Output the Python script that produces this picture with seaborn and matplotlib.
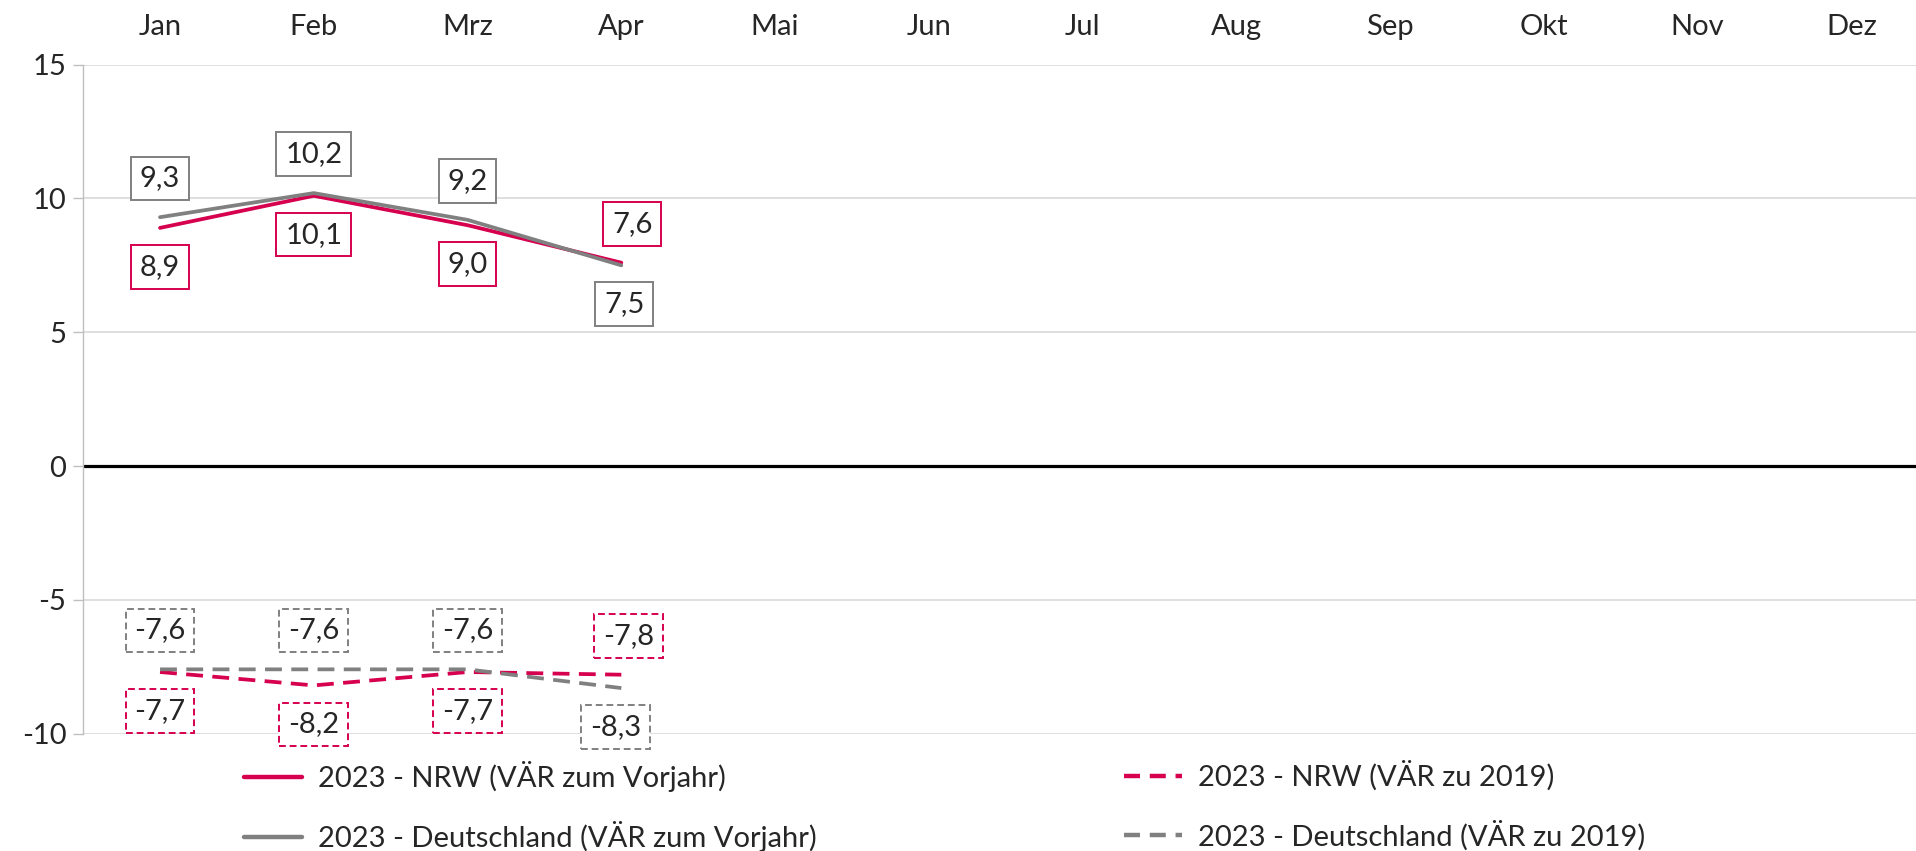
import numpy as np
import pandas as pd
import seaborn as sns
import matplotlib
matplotlib.use('Agg')
import matplotlib.pyplot as plt
from matplotlib.lines import Line2D

months = ['Jan', 'Feb', 'Mrz', 'Apr', 'Mai', 'Jun', 'Jul', 'Aug', 'Sep', 'Okt', 'Nov', 'Dez']
nrw_vorjahr = [8.9, 10.1, 9.0, 7.6]
de_vorjahr = [9.3, 10.2, 9.2, 7.5]
nrw_2019 = [-7.7, -8.2, -7.7, -7.8]
de_2019 = [-7.6, -7.6, -7.6, -8.3]
names = ['2023 - NRW (VÄR zum Vorjahr)', '2023 - Deutschland (VÄR zum Vorjahr)',
         '2023 - NRW (VÄR zu 2019)', '2023 - Deutschland (VÄR zu 2019)']
y_ticks = [-10, -5, 0, 5, 10, 15]

RED = '#D6004F'
GREY = '#808080'
FS = 21
colors = {names[0]: RED, names[1]: GREY, names[2]: RED, names[3]: GREY}
dashes = {names[0]: '', names[1]: '', names[2]: (4.5, 2.5), names[3]: (4.5, 2.5)}

# where the value boxes sit: +1 above the point, -1 below; dx nudges in points
label_side = {names[0]: [-1, -1, -1, 1], names[1]: [1, 1, 1, -1],
              names[2]: [-1, -1, -1, 1], names[3]: [1, 1, 1, -1]}
label_dx = {names[0]: [0, 0, 0, 8], names[1]: [0, 0, 0, 2],
            names[2]: [0, 0, 0, 5], names[3]: [0, 0, 0, -4]}

values = dict(zip(names, [nrw_vorjahr, de_vorjahr, nrw_2019, de_2019]))
rows = []
for name in names:
    for i, v in enumerate(values[name]):
        rows.append({'monat': i, 'wert': v, 'serie': name})
df = pd.DataFrame(rows)

sns.set_style('white')
plt.rcParams['font.family'] = ['Lato', 'DejaVu Sans']

fig = plt.figure(figsize=(19.16, 8.51), dpi=100)
ax = fig.add_axes([0.0434, 0.138, 0.963, 0.786])

ax.set_ylim(-10, 15)
ax.set_xlim(-0.5, 11.5)
ax.set_yticks(y_ticks)
ax.set_yticklabels([str(t) for t in y_ticks], fontsize=FS)
ax.yaxis.grid(True, color='#D9D9D9', lw=1.2)
ax.set_axisbelow(True)
ax.axhline(0, color='black', lw=2.3, zorder=1.5)

order = [names[0], names[2], names[1], names[3]]
sns.lineplot(data=df, x='monat', y='wert', hue='serie', style='serie',
             hue_order=order, style_order=order, palette=colors, dashes=dashes,
             linewidth=2.7, legend=False, ax=ax)

for name in names:
    ls = '-' if dashes[name] == '' else (0, (3.5, 2))
    for i, v in enumerate(values[name]):
        ax.annotate(f'{v:.1f}'.replace('.', ','), (i, v),
                    xytext=(label_dx[name][i], label_side[name][i] * 28),
                    textcoords='offset points', ha='center', va='center', fontsize=FS,
                    bbox=dict(boxstyle='square,pad=0.3', fc='white', ec=colors[name],
                              lw=1.4, ls=ls), zorder=5)

ax.set_xticks(range(len(months)))
ax.set_xticklabels(months, fontsize=FS)
ax.tick_params(axis='x', top=True, labeltop=True, bottom=False, labelbottom=False,
               length=0, pad=18)
ax.tick_params(axis='y', left=True, length=7, width=1, color='#BFBFBF', pad=5)
ax.set_xlabel('')
ax.set_ylabel('')
for s in ['top', 'right', 'bottom']:
    ax.spines[s].set_visible(False)
ax.spines['left'].set_color('#BFBFBF')
ax.spines['left'].set_linewidth(1)

handles = [Line2D([], [], color=colors[n], lw=3.2,
                  ls='-' if dashes[n] == '' else (0, (3.6, 2.2))) for n in names]
leg_kw = dict(frameon=False, fontsize=FS, handlelength=2.0, handletextpad=0.55,
              labelspacing=1.0, borderpad=0, borderaxespad=0, loc='upper left',
              bbox_transform=fig.transFigure)
leg1 = ax.legend(handles[:2], names[:2], bbox_to_anchor=(0.1273, 0.106), **leg_kw)
ax.add_artist(leg1)
ax.legend(handles[2:], names[2:], bbox_to_anchor=(0.5866, 0.106), **leg_kw)

fig.savefig('out.png', dpi=100)
